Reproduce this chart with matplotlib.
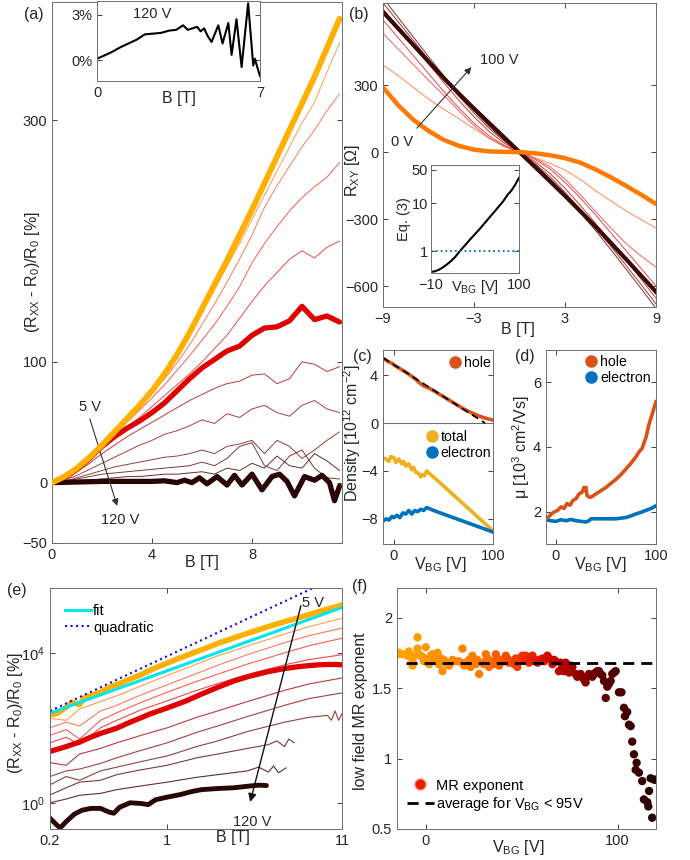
import numpy as np
import matplotlib
matplotlib.use('Agg')
import matplotlib.pyplot as plt
from matplotlib.colors import LinearSegmentedColormap
from matplotlib.lines import Line2D

plt.rcParams['font.family'] = ['Liberation Sans', 'DejaVu Sans']
plt.rcParams['mathtext.fontset'] = 'custom'
plt.rcParams['mathtext.rm'] = 'Liberation Sans'
plt.rcParams['mathtext.it'] = 'Liberation Sans:italic'
plt.rcParams['mathtext.default'] = 'regular'

# ---------------- data: panel (a) ----------------
B_a = [0, 0.5, 1, 1.5, 2, 2.5, 3, 3.5, 4, 4.5, 5, 5.5, 6, 6.5, 7, 7.5, 8, 8.5, 9, 9.5, 10, 10.5, 11, 11.5]
mr_5V = [0, 5, 12, 21, 31, 42, 53, 64, 76, 90, 106, 124, 144, 164, 184, 205, 226, 248, 270, 292, 314, 336, 360, 384]
mr_c2 = [0, 5, 12, 21, 31, 42, 53, 64, 76, 90, 105, 122, 141, 160, 179, 198, 218, 238, 258, 278, 298, 315, 340, 364]
mr_c3 = [0, 5, 12, 21, 31, 42, 53, 64, 75, 86, 99, 114, 131, 148, 166, 185, 205, 228, 246, 262, 278, 292, 308, 322]
mr_c4 = [0, 5, 12, 20, 30, 40, 50, 60, 70, 81, 93, 105, 118, 131, 146, 162, 182, 198, 212, 225, 236, 245, 253, 265]
mr_c5 = [0, 5, 11, 19, 28, 37, 46, 54, 63, 72, 81, 90, 100, 111, 122, 136, 150, 163, 174, 185, 192, 186, 195, 200]
mr_red = [0, 4, 11, 20, 30, 38, 45, 51, 58, 66, 76, 86, 95, 102, 109, 113, 122, 128, 129, 134, 146, 135, 138, 133]
mr_c7 = [0, 3, 9, 16, 24, 31, 38, 44, 50, 56, 62, 68, 73, 78, 82, 84, 89, 90, 82, 86, 100, 98, 92, 96]
mr_c8 = [0, 2, 6, 11, 16, 21, 26, 31, 35, 40, 43, 47, 52, 49, 57, 54, 61, 64, 58, 55, 64, 68, 61, 58]
mr_c9 = [0, 1, 4, 7, 10, 13, 15, 17, 19, 21, 22, 24, 27, 24, 30, 32, 35, 24, 35, 30, 20, 27, 35, 42]
mr_c10 = [0, 1, 3, 5, 7, 8, 9, 10, 11, 12, 13, 14, 17, 14, 20, 30, 33, 14, 10, 22, 27, 12, 4, 3]
mr_c11 = [0, 0, 1, 2, 3, 4, 5, 5, 6, 7, 7, 8, 9, 7, 12, 10, 16, 12, 22, 14, 12, 24, 18, 10]
B_dark = [0, 1, 2, 3, 4, 4.5, 5, 5.3, 5.6, 5.9, 6.2, 6.6, 7.0, 7.3, 7.6, 8.0, 8.4, 8.8, 9.1, 9.4, 9.7, 10.1, 10.5, 10.8, 11.1, 11.3, 11.5]
mr_120V = [0, 0.5, 1, 1, 1, 1.5, 0, 2, 0, 4, -1, 5, -2, 6, -2, 7, -6, 5, 7, 1, -11, 5, 2, 6, 0, -15, -3]
# inset (a): 120 V in percent
B_in = [0, 0.3, 0.65, 1.0, 1.35, 1.7, 2.05, 2.4, 2.75, 3.1, 3.4, 3.7, 3.9, 4.1, 4.3, 4.45, 4.6, 4.75, 4.92,
        5.21, 5.39, 5.64, 5.78, 5.99, 6.21, 6.49, 6.71, 6.78, 6.92, 7.0]
mr_in = [0.1, 0.3, 0.55, 0.85, 1.1, 1.35, 1.7, 1.75, 1.8, 1.95, 2.0, 2.3, 2.0, 2.1, 2.2, 1.9, 2.1, 1.6, 1.2,
         2.3, 1.1, 2.45, 0.35, 2.7, -0.45, 3.75, -0.35, 0.1, -0.65, -1.05]

# ---------------- data: panel (b) ----------------
B_b = [-9, -8, -7, -6, -5, -4, -3, -2, -1, 0, 1, 2, 3, 4, 5, 6, 7, 8, 9]
rxy_0V = [290, 210, 145, 95, 55, 28, 11, 3, 1, 0, -5, -14, -27, -47, -77, -112, -150, -190, -232]
rxy_t1 = [390, 343, 290, 238, 192, 150, 105, 62, 28, 0, -25, -50, -80, -122, -172, -218, -262, -302, -340]
rxy_t2 = [532, 462, 392, 322, 255, 185, 118, 62, 24, 0, -26, -65, -120, -190, -265, -338, -408, -465, -515]
rxy_t3 = [592, 512, 432, 352, 272, 198, 130, 72, 30, 0, -32, -75, -135, -205, -280, -360, -440, -520, -600]
rxy_t4 = [640, 560, 478, 395, 312, 232, 158, 92, 40, 0, -42, -95, -162, -238, -318, -400, -482, -568, -655]
rxy_t5 = [668, 584, 500, 415, 330, 250, 175, 106, 48, 0, -50, -110, -180, -258, -338, -420, -505, -592, -680]
rxy_t6 = [690, 603, 516, 428, 342, 260, 185, 115, 53, 0, -55, -120, -192, -270, -350, -435, -522, -610, -700]
rxy_100V = [628, 554, 480, 406, 332, 262, 195, 130, 65, 0, -65, -130, -196, -264, -333, -405, -478, -552, -626]
# inset (b)
V_eq = [-10, -5, 0, 5, 10, 15, 20, 26, 30, 40, 50, 60, 70, 80, 86, 90, 95, 100]
eq3 = [0.37, 0.38, 0.41, 0.46, 0.53, 0.62, 0.75, 1.0, 1.19, 1.84, 2.8, 4.4, 6.9, 10.9, 15.2, 18, 24, 34]
eq_ref = [1, 1]
V_ref = [-10, 100]

# ---------------- data: panel (c) ----------------
V_h = [-11, -8, -5, -2, 0, 3, 6, 10, 14, 18, 22, 26, 30, 33, 36, 40, 45, 50, 55, 60, 65, 70, 75, 80, 85, 90, 95, 100]
n_hole = [5.4, 5.25, 5.1, 5.0, 4.85, 4.7, 4.55, 4.35, 4.15, 3.9, 3.65, 3.35, 3.1, 3.0, 2.9, 2.7, 2.45, 2.2,
          1.95, 1.7, 1.45, 1.2, 0.98, 0.8, 0.62, 0.47, 0.35, 0.25]
V_t = [-11, -8, -5, -3, 0, 2, 5, 8, 10, 12, 15, 18, 20, 22, 25, 27, 29, 31, 33, 40, 50, 60, 70, 80, 90, 100]
n_total = [-2.9, -3.0, -3.2, -2.8, -2.9, -3.3, -3.0, -3.4, -3.2, -3.6, -3.4, -3.9, -3.7, -4.1, -4.2, -4.5,
           -4.3, -4.4, -4.0, -4.5, -5.25, -6.0, -6.75, -7.5, -8.25, -9.0]
V_e = [-11, -8, -5, -2, 0, 3, 6, 9, 12, 15, 18, 21, 24, 27, 30, 33, 40, 50, 60, 70, 80, 90, 100]
n_elec = [-8.2, -8.0, -8.1, -7.8, -7.9, -7.7, -7.9, -7.5, -7.6, -7.3, -7.6, -7.3, -7.4, -7.2, -7.3, -7.05,
          -7.3, -7.6, -7.9, -8.2, -8.5, -8.8, -9.1]
V_lin = [-11, 92]
n_lin = [5.45, 0.0]

# ---------------- data: panel (d) ----------------
Vd_h = [-10, -7, -4, -1, 2, 5, 8, 11, 14, 17, 20, 23, 26, 28, 29, 30, 31, 33, 35, 40, 45, 50, 55, 60, 65, 70,
        75, 80, 83, 86, 90, 93, 96, 100]
mu_hole = [1.78, 1.85, 1.95, 2.0, 2.05, 2.15, 2.1, 2.25, 2.2, 2.35, 2.4, 2.55, 2.6, 2.75, 2.65, 2.75, 2.5, 2.45,
           2.45, 2.55, 2.65, 2.75, 2.88, 3.0, 3.15, 3.32, 3.5, 3.7, 3.85, 3.95, 4.3, 4.7, 5.0, 5.4]
Vd_e = [-10, -5, 0, 5, 10, 15, 20, 25, 30, 33, 35, 40, 50, 60, 65, 70, 75, 80, 85, 90, 95, 100]
mu_elec = [1.75, 1.72, 1.7, 1.75, 1.72, 1.76, 1.72, 1.7, 1.68, 1.72, 1.78, 1.78, 1.78, 1.78, 1.8, 1.82, 1.87,
           1.93, 1.98, 2.04, 2.1, 2.18]

# ---------------- data: panel (e) (log10 of MR in %) ----------------
B_ey = [0.2, 0.22, 0.25, 0.27, 0.3, 0.32, 0.36, 0.4, 0.45, 0.5, 0.6, 0.7, 0.8, 1, 1.3, 1.6, 2, 2.5, 3, 4, 5, 6, 7, 8, 9, 10, 11]
lg_5V = [2.35, 2.38, 2.55, 2.68, 2.62, 2.8, 2.88, 2.95, 3.08, 3.15, 3.3, 3.42, 3.55, 3.73, 3.93, 4.08, 4.25, 4.4,
         4.52, 4.7, 4.83, 4.93, 5.02, 5.1, 5.17, 5.22, 5.28]
B_er = [0.2, 0.25, 0.3, 0.35, 0.4, 0.5, 0.6, 0.7, 0.8, 1, 1.3, 1.6, 2, 2.5, 3, 4, 5, 6, 7, 8, 9, 10, 11]
lg_red = [1.37, 1.5, 1.62, 1.75, 1.85, 1.99, 2.15, 2.27, 2.38, 2.53, 2.72, 2.9, 3.08, 3.25, 3.36, 3.5, 3.58,
          3.63, 3.66, 3.68, 3.69, 3.69, 3.68]
B_ed = [0.2, 0.22, 0.23, 0.25, 0.28, 0.31, 0.35, 0.4, 0.45, 0.48, 0.52, 0.6, 0.7, 0.77, 0.85, 1, 1.2, 1.4, 1.6,
        2, 2.5, 3, 3.5, 3.9]
lg_120V = [-0.41, -0.6, -0.67, -0.5, -0.3, -0.2, -0.15, -0.15, -0.25, -0.28, -0.12, 0.0, -0.02, -0.05, 0.08,
           0.15, 0.22, 0.3, 0.35, 0.38, 0.4, 0.44, 0.47, 0.46]
B_et = [0.2, 0.25, 0.3, 0.4, 0.5, 0.7, 1, 1.5, 2, 3, 5, 7, 11]
lg_u1 = [2.25, 2.2, 2.5, 2.7, 2.85, 3.12, 3.4, 3.7, 3.92, 4.18, 4.5, 4.7, 4.92]
lg_u2 = [2.0, 2.15, 2.05, 2.45, 2.6, 2.88, 3.15, 3.45, 3.67, 3.95, 4.27, 4.46, 4.66]
lg_u3 = [1.8, 1.95, 1.7, 2.2, 2.4, 2.68, 2.95, 3.24, 3.43, 3.7, 4.0, 4.19, 4.39]
lg_u4 = [1.6, 1.75, 1.55, 2.0, 2.2, 2.48, 2.72, 3.0, 3.18, 3.42, 3.68, 3.82, 3.95]
lg_d1 = [1.07, 1.0, 1.3, 1.45, 1.6, 1.8, 2.0, 2.28, 2.45, 2.7, 3.0, 3.17, 3.33]
lg_d2 = [0.7, 0.85, 0.9, 1.05, 1.2, 1.4, 1.6, 1.88, 2.05, 2.3, 2.6, 2.78, 2.93]
B_e3 = [0.2, 0.25, 0.3, 0.4, 0.5, 0.7, 1, 1.5, 2, 3, 5, 7, 9, 9.5, 10, 10.5, 11]
lg_d3 = [0.48, 0.7, 0.6, 0.85, 0.95, 1.1, 1.25, 1.5, 1.65, 1.9, 2.15, 2.28, 2.33, 2.2, 2.45, 2.2, 2.38]
B_e4 = [0.2, 0.25, 0.3, 0.4, 0.5, 0.7, 1, 1.5, 2, 3, 4, 4.5, 5, 5.3, 5.7]
lg_d4 = [0.21, 0.4, 0.55, 0.6, 0.75, 0.88, 1.0, 1.2, 1.3, 1.45, 1.55, 1.65, 1.5, 1.7, 1.6]
B_e5 = [0.2, 0.25, 0.3, 0.4, 0.5, 0.7, 1, 1.5, 2, 3, 3.5, 4, 4.3, 4.6, 5.1]
lg_d5 = [0.0, 0.1, 0.2, 0.25, 0.35, 0.45, 0.55, 0.68, 0.75, 0.85, 0.95, 0.82, 0.98, 0.8, 0.93]
B_fit = [0.2, 11]
lg_fit = [2.39, 5.21]
B_quad = [0.2, 7.4]
lg_quad = [2.45, 5.73]

# ---------------- data: panel (f) ----------------
V_f = [-14.7, -12.2, -9.5, -6.9, -6.9, -4.3, -4.3, -2.6, -0.9, 0, 1.7, 3.5, 4.3, 6.1, 7.8, 8.7, 10.4, 12.2,
       13.9, 15.6, 19.1, 20, 22.6, 24.3, 26, 27.8, 29.5, 31.3, 33, 34.7, 36.5, 38.2, 39.9, 41.7, 43.4, 45.1,
       46.9, 47.7, 50.3, 52.1, 53.8, 55.6, 58.2, 60.8, 63.4, 66, 67.7, 69.4, 71.2, 72.9, 74.7, 76.4, 78.1,
       79.9, 81.6, 83.3, 85.1, 86.8, 88.5, 90.3, 92, 93.8, 95.5, 97.2, 99, 100.7, 102, 103.3, 103.8, 105,
       105.9, 106.8, 107.6, 108.5, 109.9, 109.4, 111.1, 112.8, 113.7, 115.5, 116, 116.4, 117.2, 119, 118, 119.8,
       -13.9, -8.9, -6.1, -1.7, 0.9, 2.6, 5.2, 6.9, 9.5, 11.3, 17.4, 20.8, 23.4, 26.9, 30.4, 32.1, 35.6, 37.3,
       40.8, 42.5, 46.0, 48.6, 51.2, 52.9, 54.7, 56.4, 59.0, 61.6, 64.2, 66.8, 70.3, 72.0, 73.8, 75.5, 79.0,
       80.7, 82.5, 84.2, 87.7, 89.4, 91.1, 92.9, 94.6, 96.4, 98.1]
exp_f = [1.74, 1.74, 1.73, 1.70, 1.66, 1.78, 1.86, 1.73, 1.69, 1.79, 1.67, 1.74, 1.71, 1.75, 1.71, 1.62, 1.68,
         1.66, 1.70, 1.69, 1.78, 1.66, 1.70, 1.73, 1.67, 1.60, 1.68, 1.74, 1.65, 1.69, 1.74, 1.66, 1.70, 1.73,
         1.68, 1.69, 1.71, 1.65, 1.73, 1.73, 1.68, 1.73, 1.68, 1.71, 1.73, 1.67, 1.69, 1.62, 1.65, 1.68, 1.61,
         1.65, 1.60, 1.59, 1.58, 1.54, 1.60, 1.58, 1.61, 1.62, 1.59, 1.43, 1.53, 1.60, 1.62, 1.47, 1.47, 1.36,
         1.30, 1.33, 1.24, 1.23, 1.12, 1.03, 0.97, 0.92, 0.90, 0.84, 0.71, 0.69, 0.66, 0.77, 0.86, 0.85, 0.58, 0.85,
         1.75, 1.76, 1.73, 1.72, 1.70, 1.73, 1.69, 1.67, 1.70, 1.67, 1.69, 1.68, 1.65, 1.70, 1.67, 1.71, 1.67, 1.71,
         1.69, 1.71, 1.67, 1.69, 1.71, 1.71, 1.71, 1.70, 1.70, 1.69, 1.71, 1.70, 1.68, 1.62, 1.64, 1.66, 1.58,
         1.60, 1.56, 1.58, 1.60, 1.62, 1.60, 1.55, 1.51, 1.55, 1.61]
V_avg = [-10.5, 120]
exp_avg = [1.675, 1.675]

# ---------------- styling ----------------
TXT = '#262626'
SP = '#6e6e6e'
LAB = 11.5
TCK = 10.5
LEG = 10.2


def style(ax):
    ax.tick_params(which='both', direction='in', length=3.5, width=0.6, top=True, right=True,
                   labelsize=TCK, colors=TXT)
    for s in ax.spines.values():
        s.set_linewidth(0.7)
        s.set_color(SP)


fig = plt.figure(figsize=(6.9, 8.6), dpi=100)

cols12 = ['#FFB000', '#FF9E50', '#FF7A5A', '#F56050', '#EE4A48', '#E00000',
          '#C03838', '#A84040', '#904040', '#7A3A3A', '#603030', '#2A0505']

# ---------- (a) ----------
axa = fig.add_axes([52 / 690, 1 - 543 / 860, 290 / 690, 541 / 860])
style(axa)
thin_a = [mr_c2, mr_c3, mr_c4, mr_c5, None, mr_c7, mr_c8, mr_c9, mr_c10, mr_c11]
for i, y in enumerate(thin_a):
    if y is None:
        continue
    axa.plot(B_a, y, color=cols12[i + 1], lw=0.7, zorder=2)
axa.plot(B_a, mr_red, color=cols12[5], lw=3.8, zorder=3, solid_capstyle='round')
axa.plot(B_dark, mr_120V, color=cols12[11], lw=3.8, zorder=3, solid_capstyle='round')
axa.plot(B_a, mr_5V, color=cols12[0], lw=4.2, zorder=4, solid_capstyle='round')
axa.set_xlim(0, 11.6)
axa.set_ylim(-50, 398)
axa.set_xticks([0, 4, 8])
axa.set_yticks([-50, 0, 100, 300])
axa.set_xlabel('B [T]', fontsize=LAB, color=TXT)
axa.xaxis.set_label_coords(0.517, -0.022)
axa.set_ylabel('(R$_{XX}$ - R$_0$)/R$_0$ [%]', fontsize=LAB, color=TXT)
axa.yaxis.set_label_coords(-0.035, 0.5)
axa.annotate('', xy=(2.64, -21.5), xytext=(1.48, 55),
             arrowprops=dict(arrowstyle='-|>', color='#333333', lw=0.8, mutation_scale=10))
axa.text(1.52, 63, '5 V', fontsize=TCK, color=TXT, ha='center', va='center')
axa.text(2.72, -31, '120 V', fontsize=TCK, color=TXT, ha='center', va='center')
fig.text(34 / 690, 1 - 14 / 860, '(a)', fontsize=LAB, color=TXT, ha='center', va='center')

# inset (a)
axai = fig.add_axes([97 / 690, 1 - 81 / 860, 163 / 690, 80 / 860])
style(axai)
axai.plot(B_in, mr_in, color='k', lw=1.5)
axai.set_xlim(0, 7)
axai.set_ylim(-1.37, 3.9)
axai.set_xticks([0, 7])
axai.set_yticks([0, 3])
axai.set_yticklabels(['0%', '3%'])
axai.set_xlabel('B [T]', fontsize=LAB, color=TXT)
axai.xaxis.set_label_coords(0.5, -0.12)
axai.text(2.36, 3.07, '120 V', fontsize=TCK, color=TXT, ha='center', va='center')

# ---------- (b) ----------
axb = fig.add_axes([383 / 690, 1 - 307 / 860, 273 / 690, 304 / 860])
style(axb)
thin_b = [rxy_t1, rxy_t2, rxy_t3, rxy_t4, rxy_t5, rxy_t6]
cols_b = ['#FF8A55', '#F56060', '#E84848', '#D03838', '#A83535', '#803030']
for y, c in zip(thin_b, cols_b):
    axb.plot(B_b, y, color=c, lw=0.7)
axb.plot(B_b, rxy_100V, color='#3A0808', lw=3.0)
axb.plot(B_b, rxy_0V, color='#FF7A00', lw=3.2)
axb.set_xlim(-9, 9)
axb.set_ylim(-694, 668)
axb.set_xticks([-9, -3, 3, 9])
axb.set_yticks([-600, -300, 0, 300])
axb.set_xlabel('B [T]', fontsize=LAB, color=TXT)
axb.xaxis.set_label_coords(0.495, -0.049)
axb.set_ylabel('R$_{XY}$ [\u03a9]', fontsize=LAB, color=TXT)
axb.yaxis.set_label_coords(-0.077, 0.45)
axb.annotate('', xy=(-3.05, 390), xytext=(-6.89, 98),
             arrowprops=dict(arrowstyle='-|>', color='#333333', lw=0.8, mutation_scale=10))
axb.text(-7.77, 46, '0 V', fontsize=TCK, color=TXT, ha='center', va='center')
axb.text(-1.35, 412, '100 V', fontsize=TCK, color=TXT, ha='center', va='center')
fig.text(359 / 690, 1 - 14 / 860, '(b)', fontsize=LAB, color=TXT, ha='center', va='center')

# inset (b)
axbi = fig.add_axes([431 / 690, 1 - 273 / 860, 88 / 690, 108 / 860])
style(axbi)
axbi.set_yscale('log')
axbi.plot(V_eq, eq3, color='k', lw=1.5)
axbi.plot(V_ref, eq_ref, color='#0072BD', lw=1.3, ls=':')
axbi.set_xlim(-10, 100)
axbi.set_ylim(0.35, 63)
axbi.set_xticks([-10, 100])
axbi.set_yticks([1, 10, 50])
axbi.set_yticklabels(['1', '10', '50'])
axbi.minorticks_off()
axbi.tick_params(axis='y', pad=2)
axbi.set_xlabel('V$_{BG}$ [V]', fontsize=TCK, color=TXT)
axbi.xaxis.set_label_coords(0.5, -0.05)
axbi.set_ylabel('Eq. (3)', fontsize=TCK, color=TXT)
axbi.yaxis.set_label_coords(-0.23, 0.5)

HOLE = '#D95319'
ELEC = '#0072BD'
TOT = '#EDB120'

# ---------- (c) ----------
axc = fig.add_axes([383 / 690, 1 - 544 / 860, 110 / 690, 194 / 860])
style(axc)
axc.axhline(0, color=SP, lw=0.8)
axc.plot(V_h, n_hole, color=HOLE, lw=2.6)
axc.plot(V_lin, n_lin, color='k', lw=1.3, ls=(0, (4, 2.5)))
axc.plot(V_t, n_total, color=TOT, lw=2.6)
axc.plot(V_e, n_elec, color=ELEC, lw=2.6)
axc.set_xlim(-11, 100)
axc.set_ylim(-10.1, 6.1)
axc.set_xticks([0, 100])
axc.set_yticks([-8, -4, 0, 4])
axc.set_xlabel('V$_{BG}$ [V]', fontsize=LAB, color=TXT)
axc.xaxis.set_label_coords(0.52, -0.057)
axc.set_ylabel('Density [10$^{12}$ cm$^{-2}$]', fontsize=LAB, color=TXT)
axc.yaxis.set_label_coords(-0.18, 0.57)
h1 = [Line2D([], [], marker='o', ls='none', color=HOLE, markersize=8)]
leg1 = axc.legend(h1, ['hole'], loc='center left', bbox_to_anchor=(0.60, 0.933), frameon=False,
                  fontsize=LEG, handlelength=0.8, handletextpad=0.25, borderpad=0, borderaxespad=0)
axc.add_artist(leg1)
h2 = [Line2D([], [], marker='o', ls='none', color=TOT, markersize=8),
      Line2D([], [], marker='o', ls='none', color=ELEC, markersize=8)]
axc.legend(h2, ['total', 'electron'], loc='center left', bbox_to_anchor=(0.39, 0.51), frameon=False,
           fontsize=LEG, handlelength=0.8, handletextpad=0.25, borderpad=0, borderaxespad=0, labelspacing=0.1)
fig.text(362 / 690, 1 - 357 / 860, '(c)', fontsize=LAB, color=TXT, ha='center', va='center')

# ---------- (d) ----------
axd = fig.add_axes([546 / 690, 1 - 544 / 860, 110 / 690, 194 / 860])
style(axd)
axd.plot(Vd_e, mu_elec, color=ELEC, lw=2.6)
axd.plot(Vd_h, mu_hole, color=HOLE, lw=2.6)
axd.set_xlim(-10, 100)
axd.set_ylim(1, 7)
axd.set_xticks([0, 100])
axd.set_yticks([2, 4, 6])
axd.set_xlabel('V$_{BG}$ [V]', fontsize=LAB, color=TXT)
axd.xaxis.set_label_coords(0.49, -0.057)
axd.set_ylabel('\u03bc [10$^3$ cm$^2$/Vs]', fontsize=LAB, color=TXT)
axd.yaxis.set_label_coords(-0.127, 0.5)
h3 = [Line2D([], [], marker='o', ls='none', color=HOLE, markersize=8),
      Line2D([], [], marker='o', ls='none', color=ELEC, markersize=8)]
axd.legend(h3, ['hole', 'electron'], loc='center left', bbox_to_anchor=(0.36, 0.897), frameon=False,
           fontsize=LEG, handlelength=0.8, handletextpad=0.25, borderpad=0, borderaxespad=0, labelspacing=0.1)
fig.text(525 / 690, 1 - 357 / 860, '(d)', fontsize=LAB, color=TXT, ha='center', va='center')

# ---------- (e) ----------
axe = fig.add_axes([50 / 690, 1 - 829 / 860, 292 / 690, 241 / 860])
style(axe)
axe.set_xscale('log')
axe.set_yscale('log')
p10 = lambda a: np.power(10.0, np.asarray(a))
thin_e = [(B_et, lg_u1), (B_et, lg_u2), (B_et, lg_u3), (B_et, lg_u4), None,
          (B_et, lg_d1), (B_et, lg_d2), (B_e3, lg_d3), (B_e4, lg_d4), (B_e5, lg_d5)]
for i, item in enumerate(thin_e):
    if item is None:
        continue
    axe.plot(item[0], p10(item[1]), color=cols12[i + 1], lw=0.8)
axe.plot(B_er, p10(lg_red), color=cols12[5], lw=3.8, solid_capstyle='round')
axe.plot(B_ed, p10(lg_120V), color=cols12[11], lw=3.5, solid_capstyle='round')
axe.plot(B_ey, p10(lg_5V), color=cols12[0], lw=4.0, solid_capstyle='round')
lf, = axe.plot(B_fit, p10(lg_fit), color='#00E5EE', lw=2.2)
lq, = axe.plot(B_quad, p10(lg_quad), color='#1010E0', lw=1.5, ls=':')
axe.set_xlim(0.2, 11)
axe.set_ylim(10 ** -0.7, 10 ** 5.73)
axe.minorticks_off()
axe.set_xticks([0.2, 1, 11])
axe.set_xticklabels(['0.2', '1', '11'])
axe.set_yticks([1, 1e4])
axe.set_yticklabels(['10$^0$', '10$^4$'])
axe.set_xlabel('B [T]', fontsize=LAB, color=TXT)
axe.xaxis.set_label_coords(0.627, -0.004)
axe.set_ylabel('(R$_{XX}$ - R$_0$)/R$_0$ [%]', fontsize=LAB, color=TXT)
axe.yaxis.set_label_coords(-0.086, 0.48)
axe.annotate('', xy=(3.09, 10 ** -0.05), xytext=(6.32, 10 ** 5.33),
             arrowprops=dict(arrowstyle='-|>', color='#111111', lw=1.0, mutation_scale=12))
axe.text(6.32, 10 ** 5.33, '5 V', fontsize=TCK, color=TXT, ha='left', va='center')
axe.text(3.19, 10 ** -0.51, '120 V', fontsize=TCK, color=TXT, ha='center', va='center')
axe.legend([lf, lq], ['fit', 'quadratic'], loc='center left', bbox_to_anchor=(0.05, 0.871), frameon=False,
           fontsize=TCK, handlelength=1.8, handletextpad=0.15, borderpad=0, borderaxespad=0, labelspacing=0.2)
fig.text(17 / 690, 1 - 590 / 860, '(e)', fontsize=LAB, color=TXT, ha='center', va='center')

# ---------- (f) ----------
axf = fig.add_axes([397 / 690, 1 - 829 / 860, 259 / 690, 241 / 860])
style(axf)
cm = LinearSegmentedColormap.from_list('mr', [(0.0, '#FFA800'), (0.33, '#FF7800'), (0.5, '#F02800'),
                                              (0.62, '#C00000'), (0.8, '#5A0000'), (1.0, '#250000')])
axf.scatter(V_f, exp_f, c=V_f, cmap=cm, vmin=-15, vmax=120, s=36, linewidths=0, zorder=2)
axf.plot(V_avg, exp_avg, color='k', lw=2.0, ls=(0, (4, 2.5)), zorder=3)
axf.set_xlim(-15, 120)
axf.set_ylim(0.5, 2.21)
axf.set_xticks([0, 100])
axf.set_yticks([0.5, 1, 1.5, 2])
axf.set_yticklabels(['0.5', '1', '1.5', '2'])
axf.set_xlabel('V$_{BG}$ [V]', fontsize=LAB, color=TXT)
axf.xaxis.set_label_coords(0.467, -0.037)
axf.set_ylabel('low field MR exponent', fontsize=LAB, color=TXT)
axf.yaxis.set_label_coords(-0.112, 0.49)
h4 = [Line2D([], [], marker='o', ls='none', color='#E82000', markeredgecolor='#FF9080', markersize=8),
      Line2D([], [], color='k', lw=2.0, ls=(0, (4, 2.5)))]
axf.legend(h4, ['MR exponent', 'average for V$_{BG}$ < 95V'], loc='center left', bbox_to_anchor=(0.04, 0.137),
           frameon=False, fontsize=TCK, handlelength=1.8, handletextpad=0.15, borderpad=0, borderaxespad=0,
           labelspacing=0.2)
fig.text(360 / 690, 1 - 587 / 860, '(f)', fontsize=LAB, color=TXT, ha='center', va='center')

fig.savefig('out.png', dpi=100)
